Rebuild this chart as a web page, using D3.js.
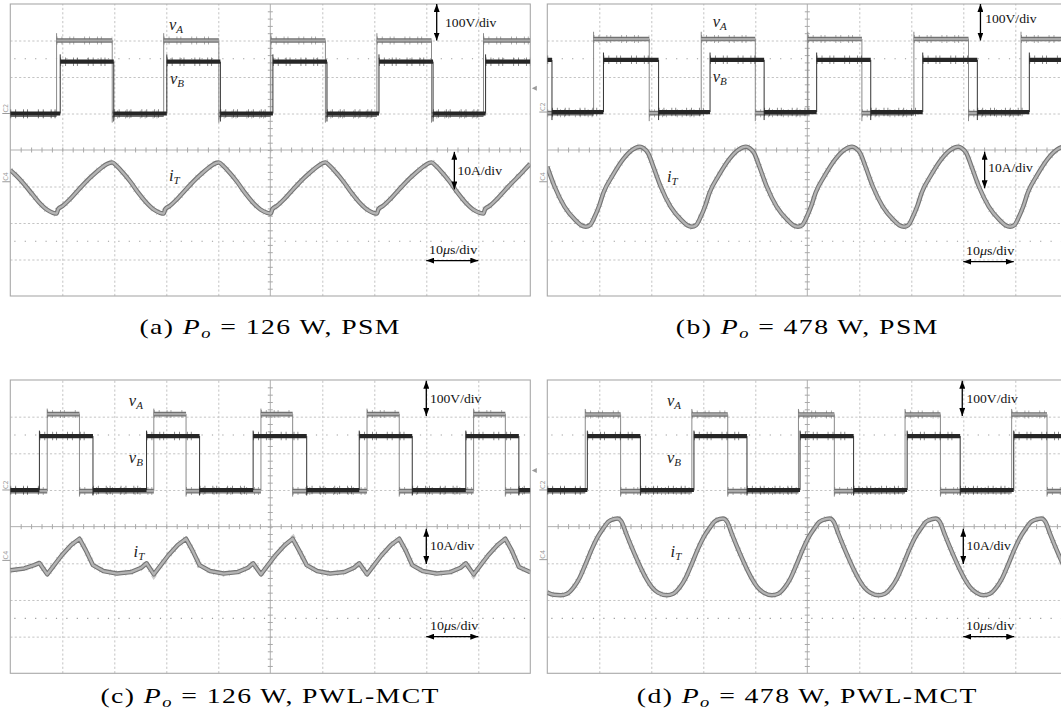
<!DOCTYPE html>
<html><head><meta charset="utf-8">
<script src="https://cdn.jsdelivr.net/npm/d3@7"></script>
<style>
html,body{margin:0;padding:0;background:#fff;}
svg{display:block;}
</style></head>
<body>
<svg id="chart" width="1061" height="726"></svg>
<script>
// ---------------- DATA (time in µs, voltage in V, current in A) ----------------
const panelLetters = ["(a)", "(b)", "(c)", "(d)"];
const outputPower  = ["126", "478", "126", "478"];
const methods      = ["PSM", "PSM", "PWL-MCT", "PWL-MCT"];
const scaleLabels  = ["100V/div", "10A/div", "10μs/div"];

// v_A / v_B switching edges (µs) and levels (V)
const vA_a_rise = [8.9, 29.5, 50.1, 70.5, 91.0];
const vA_a_fall = [19.6, 40.1, 60.6, 81.0];
const vB_a_rise = [9.6, 30.1, 50.5, 70.9, 91.4];
const vB_a_fall = [19.9, 40.4, 60.9, 81.3];

const vA_b_rise = [8.9, 29.6, 50.1, 70.5, 91.1];
const vA_b_fall = [19.6, 40.0, 60.5, 81.0];
const vB_b_rise = [10.8, 31.3, 51.8, 72.2, 92.7];
const vB_b_fall = [0.9, 21.4, 41.7, 62.2, 82.7];

const vA_c_rise = [7.1, 27.6, 48.2, 68.6, 89.1];
const vA_c_fall = [13.3, 33.8, 54.3, 74.8, 95.2];
const vB_c_rise = [5.6, 26.2, 46.7, 67.1, 87.6];
const vB_c_fall = [15.9, 36.4, 57.0, 77.3, 97.8];

const vA_d_rise = [7.3, 27.8, 48.3, 68.8, 89.3];
const vA_d_fall = [14.1, 34.7, 55.2, 75.6, 96.1];
const vB_d_rise = [7.7, 28.2, 48.6, 69.2, 89.7];
const vB_d_fall = [17.9, 38.4, 58.9, 79.4];

const vA_high = [200, 200, 207, 206];
const vB_high = [142, 143, 147, 147];
const vA_low  = [-3, -3, -3, -3];
const vB_low  = [0, 0, 0, 0];
const vB_startHigh = [false, true, false, false];
const vOvershoot  = [20, 20, 15, 15];
const vUndershoot = [22, 22, 15, 15];

// transformer current i_T samples [t (µs), i (A)]
const iT_a = [
[0,3.2],[1.2,1.6],[2.5,-0.4],[4.0,-3.0],[5.5,-5.6],[7.0,-7.6],[8.2,-8.5],[8.9,-8.7],
[9.2,-7.5],[10.1,-6.6],[11.3,-5.0],[12.6,-3.0],[13.9,-1.0],[15.2,0.9],[16.5,2.6],[17.6,3.9],[18.5,4.8],[19.2,5.2],[19.6,5.3],
[20.4,4.4],[21.6,2.6],[23.1,0.0],[24.6,-3.0],[26.1,-5.6],[27.6,-7.6],[28.8,-8.5],[29.5,-8.7],
[29.8,-7.5],[30.7,-6.6],[31.9,-5.0],[33.2,-3.0],[34.5,-1.0],[35.8,0.9],[37.1,2.6],[38.2,3.9],[39.1,4.8],[39.7,5.2],[40.1,5.3],
[40.9,4.4],[42.1,2.6],[43.6,0.0],[45.1,-3.0],[46.6,-5.6],[48.1,-7.6],[49.4,-8.5],[50.1,-8.7],
[50.4,-7.5],[51.3,-6.6],[52.5,-5.0],[53.8,-3.0],[55.1,-1.0],[56.4,0.9],[57.7,2.6],[58.8,3.9],[59.7,4.8],[60.2,5.2],[60.6,5.3],
[61.4,4.4],[62.6,2.6],[64.1,0.0],[65.6,-3.0],[67.1,-5.6],[68.6,-7.6],[69.8,-8.5],[70.5,-8.7],
[70.8,-7.5],[71.7,-6.6],[72.9,-5.0],[74.2,-3.0],[75.5,-1.0],[76.8,0.9],[78.1,2.6],[79.2,3.9],[80.1,4.8],[80.6,5.2],[81.0,5.3],
[81.8,4.4],[83.0,2.6],[84.5,0.0],[86.0,-3.0],[87.5,-5.6],[89.0,-7.6],[90.3,-8.5],[91.0,-8.7],
[91.3,-7.5],[92.2,-6.6],[93.4,-5.0],[94.7,-3.0],[96.0,-1.0],[97.3,0.9],[98.6,2.8],[99.5,4.2],[100,4.9]
];
const iT_b = [
[0,4.1],[1.4,-1.3],[3.3,-6.8],[5.4,-10.5],[6.5,-11.9],[7.4,-12.3],
[8.2,-11.9],[9.1,-9.6],[10.0,-6.5],[10.8,-3.0],[12.6,1.8],[14.6,6.2],[16.4,8.8],[17.8,9.6],
[18.5,9.2],[19.4,7.8],[20.4,4.1],[21.8,-1.3],[23.7,-6.8],[25.8,-10.5],[26.9,-11.9],[27.8,-12.3],
[28.6,-11.9],[29.5,-9.6],[30.4,-6.5],[31.2,-3.0],[33.0,1.8],[35.0,6.2],[36.8,8.8],[38.2,9.6],
[38.9,9.2],[39.8,7.8],[40.8,4.1],[42.2,-1.3],[44.1,-6.8],[46.2,-10.5],[47.3,-11.9],[48.2,-12.3],
[49.0,-11.9],[49.9,-9.6],[50.8,-6.5],[51.6,-3.0],[53.4,1.8],[55.4,6.2],[57.2,8.8],[58.6,9.6],
[59.3,9.2],[60.2,7.8],[61.2,4.1],[62.6,-1.3],[64.5,-6.8],[66.6,-10.5],[67.7,-11.9],[68.6,-12.3],
[69.4,-11.9],[70.3,-9.6],[71.2,-6.5],[72.0,-3.0],[73.8,1.8],[75.8,6.2],[77.6,8.8],[79.0,9.6],
[79.7,9.2],[80.6,7.8],[81.6,4.1],[83.0,-1.3],[84.9,-6.8],[87.0,-10.5],[88.1,-11.9],[89.0,-12.3],
[89.8,-11.9],[90.7,-9.6],[91.6,-6.5],[92.4,-3.0],[94.2,1.8],[96.2,6.2],[98.0,8.8],[99.4,9.6],[100,9.5]
];
const iT_c = [
[0,-2.7],[2.7,-2.2],[4.6,-1.3],[5.6,-0.7],[7.1,-3.8],[8.6,-1.0],[9.9,1.4],[11.7,4.2],[13.3,5.9],[14.5,2.8],[15.9,-1.3],[17.9,-2.9],[20.5,-3.6],[23.2,-3.2],[25.2,-2.0],
[26.2,-0.8],[27.6,-3.8],[29.1,-1.0],[30.4,1.4],[32.2,4.2],[33.8,5.9],[35.0,2.8],[36.4,-1.3],[38.4,-2.9],[41.0,-3.6],[43.7,-3.2],[45.7,-2.0],
[46.7,-0.8],[48.2,-3.8],[49.7,-1.0],[51.0,1.4],[52.8,4.2],[54.3,5.9],[55.5,2.8],[57.0,-1.3],[59.0,-2.9],[61.5,-3.6],[64.2,-3.2],[66.1,-2.0],
[67.1,-0.8],[68.6,-3.8],[70.1,-1.0],[71.4,1.4],[73.2,4.2],[74.8,5.9],[76.0,2.8],[77.3,-1.3],[79.3,-2.9],[82.0,-3.6],[84.6,-3.2],[86.6,-2.0],
[87.6,-0.8],[89.1,-3.8],[90.6,-1.0],[91.9,1.4],[93.7,4.2],[95.2,5.9],[96.4,2.8],[97.8,-1.8],[100,-3.2]
];
const iT_d = [
[0,-9.0],[1.3,-9.6],[2.6,-9.7],[3.8,-9.3],[5.1,-7.5],[6.2,-5.0],[7.4,-1.1],[8.6,3.0],[9.7,6.2],[10.8,8.6],[11.7,10.3],[12.9,11.1],[13.5,11.2],
[14.3,10.3],[15.2,7.0],[16.2,3.5],[17.2,0.2],[18.2,-2.9],[19.2,-5.6],[20.1,-7.5],[21.3,-9.0],[23.0,-9.7],
[24.2,-9.3],[25.5,-7.5],[26.6,-5.0],[27.8,-1.1],[29.0,3.0],[30.1,6.2],[31.2,8.6],[32.1,10.3],[33.2,11.1],[33.8,11.2],
[34.6,10.3],[35.5,7.0],[36.5,3.5],[37.5,0.2],[38.5,-2.9],[39.5,-5.6],[40.4,-7.5],[41.6,-9.0],[43.2,-9.7],
[44.4,-9.3],[45.7,-7.5],[46.8,-5.0],[48.0,-1.1],[49.2,3.0],[50.3,6.2],[51.4,8.6],[52.3,10.3],[53.7,11.1],[54.3,11.2],
[55.1,10.3],[56.0,7.0],[57.0,3.5],[58.0,0.2],[59.0,-2.9],[60.0,-5.6],[60.9,-7.5],[62.1,-9.0],[63.7,-9.7],
[64.9,-9.3],[66.2,-7.5],[67.3,-5.0],[68.5,-1.1],[69.7,3.0],[70.8,6.2],[71.9,8.6],[72.8,10.3],[74.1,11.1],[74.7,11.2],
[75.5,10.3],[76.4,7.0],[77.4,3.5],[78.4,0.2],[79.4,-2.9],[80.4,-5.6],[81.3,-7.5],[82.5,-9.0],[83.9,-9.7],
[85.1,-9.3],[86.4,-7.5],[87.5,-5.0],[88.7,-1.1],[89.9,3.0],[91.0,6.2],[92.1,8.6],[93.0,10.3],[94.4,11.1],[95.0,11.2],
[95.8,10.3],[96.7,7.0],[97.7,3.5],[98.7,0.2],[100,-3.8]
];

// ---------------- LAYOUT / STYLE ----------------
const FONT = "Liberation Serif";
const panels = [
  {box:[10.3,4,520,292],  vZero:3.0,  iZero:4.87, vA:[vA_a_rise,vA_a_fall], vB:[vB_a_rise,vB_a_fall], iT:iT_a, curve:d3.curveMonotoneX,
   arrV:[8.2,0,1], arrI:[8.54,4.05,5.08], arrT:[8,9,7.03],
   labV:[8.36,0.62], labI:[8.6,4.68], labT:[8.05,6.85],
   tA:[3.05,0.71], tB:[3.07,2.19], tI:[3.05,4.85], cx:270.15, cy:334.3},
  {box:[547.3,4,520,292], vZero:2.96, iZero:4.87, vA:[vA_b_rise,vA_b_fall], vB:[vB_b_rise,vB_b_fall], iT:iT_b, curve:d3.curveMonotoneX,
   arrV:[8.33,0,1], arrI:[8.41,4.05,5.05], arrT:[8,8.97,7.06],
   labV:[8.42,0.53], labI:[8.48,4.6], labT:[8.05,6.88],
   tA:[3.18,0.63], tB:[3.18,2.14], tI:[2.3,4.88], cx:807.3, cy:334.3},
  {box:[10.3,380,520,293.3], vZero:3.0, iZero:4.92, vA:[vA_c_rise,vA_c_fall], vB:[vB_c_rise,vB_c_fall], iT:iT_c, curve:d3.curveLinear,
   arrV:[8.0,0.02,0.98], arrI:[8.0,4.06,5.02], arrT:[8,9,7.0],
   labV:[8.07,0.64], labI:[8.07,4.65], labT:[8.07,6.82],
   tA:[2.28,0.71], tB:[2.28,2.27], tI:[2.37,4.83], cx:270.15, cy:703.3},
  {box:[547.3,380,520,293.3], vZero:3.0, iZero:4.90, vA:[vA_d_rise,vA_d_fall], vB:[vB_d_rise,vB_d_fall], iT:iT_d, curve:d3.curveMonotoneX,
   arrV:[7.98,0.02,0.98], arrI:[8.0,4.06,5.02], arrT:[8,8.98,7.0],
   labV:[8.06,0.64], labI:[8.06,4.65], labT:[8.05,6.82],
   tA:[2.3,0.71], tB:[2.3,2.27], tI:[2.37,4.83], cx:807.3, cy:703.3}
];

const svg = d3.select("#chart");
svg.append("rect").attr("width",1061).attr("height",726).attr("fill","#fff");
const defs = svg.append("defs");
defs.append("marker").attr("id","ah").attr("viewBox","0 0 8 6")
  .attr("refX",8).attr("refY",3).attr("markerWidth",8).attr("markerHeight",6)
  .attr("markerUnits","userSpaceOnUse").attr("orient","auto-start-reverse")
  .append("path").attr("d","M0,0 L8,3 L0,6 Z").attr("fill","#000");

function buildSquare(rise, fall, startHigh) {
  const ev = rise.map(t=>({t,up:true})).concat(fall.map(t=>({t,up:false}))).sort((a,b)=>a.t-b.t);
  let high = startHigh, t0 = 0; const flats = [], edges = [];
  ev.forEach(e => { flats.push({t0, t1:e.t, high}); edges.push(e); high = e.up; t0 = e.t; });
  flats.push({t0, t1:100, high});
  return {flats, edges};
}

function fitText(parent, x, y, build, target, anchor) {
  const gg = parent.append("g").attr("transform",`translate(${x},${y})`);
  const tx = gg.append("text").attr("text-anchor", anchor || "start").attr("font-family", FONT).attr("fill","#111");
  build(tx);
  if (target) {
    const w = tx.node().getBBox().width;
    gg.attr("transform", `translate(${x},${y}) scale(${target / w},1)`);
  }
  return gg;
}

panels.forEach((p, k) => {
  const [px,py,pw,ph] = p.box;
  const g = svg.append("g");
  const xd = d3.scaleLinear().domain([0,10]).range([px,px+pw]);
  const yd = d3.scaleLinear().domain([0,8]).range([py,py+ph]);
  const ts = d3.scaleLinear().domain([0,100]).range([px,px+pw]);
  const vs = d3.scaleLinear().domain([p.vZero*100,(p.vZero-8)*100]).range([py,py+ph]);
  const is = d3.scaleLinear().domain([p.iZero*10,(p.iZero-8)*10]).range([py,py+ph]);

  const cid = "clip"+k;
  defs.append("clipPath").attr("id",cid).append("rect").attr("x",px).attr("y",py).attr("width",pw).attr("height",ph);

  const gridStyle = s => { s.select(".domain").remove(); s.selectAll("line").attr("stroke","#c4c4c4").attr("stroke-dasharray","2.2,2.2"); };
  g.append("g").attr("transform",`translate(0,${py+ph})`)
    .call(d3.axisBottom(xd).tickValues([1,2,3,4,6,7,8,9]).tickSize(-ph).tickFormat("")).call(gridStyle);
  g.append("g").attr("transform",`translate(${px},0)`)
    .call(d3.axisLeft(yd).tickValues([1,2,3,5,6,7]).tickSize(-pw).tickFormat("")).call(gridStyle);
  [1.5,6.5].forEach(dv => g.append("line").attr("x1",px+4).attr("x2",px+pw).attr("y1",yd(dv)).attr("y2",yd(dv))
    .attr("stroke","#9c9c9c").attr("stroke-width",1.2).attr("stroke-dasharray","1.2,9.2"));
  g.append("line").attr("x1",px).attr("x2",px+pw).attr("y1",yd(4)).attr("y2",yd(4)).attr("stroke","#b0b0b0");
  g.append("line").attr("x1",xd(5)).attr("x2",xd(5)).attr("y1",py).attr("y2",py+ph).attr("stroke","#b0b0b0");
  const tickStyle = s => { s.select(".domain").remove(); s.selectAll("line").attr("stroke","#a8a8a8"); };
  g.append("g").attr("transform",`translate(0,${yd(4)-2.5})`)
    .call(d3.axisBottom(xd).tickValues(d3.range(1,50).map(i=>i/5)).tickSize(5).tickFormat("")).call(tickStyle);
  g.append("g").attr("transform",`translate(${xd(5)-2.5},0)`)
    .call(d3.axisRight(yd).tickValues(d3.range(1,40).map(i=>i/5)).tickSize(5).tickFormat("")).call(tickStyle);
  g.append("rect").attr("x",px).attr("y",py).attr("width",pw).attr("height",ph)
    .attr("fill","none").attr("stroke","#a9a9a9").attr("stroke-width",1.1);

  const m = g.append("g").attr("fill","#9a9a9a").attr("font-family","DejaVu Sans").attr("font-size",6.5);
  [["C2", vs(0)], ["C4", is(0)]].forEach(([lab, yy]) => {
    m.append("text").attr("transform",`translate(${px-2.5},${yy-1}) rotate(-90)`).text(lab);
    m.append("line").attr("x1",px-8).attr("x2",px).attr("y1",yy).attr("y2",yy).attr("stroke","#9a9a9a");
  });
  if (k === 0 || k === 2) {
    const ty = k === 0 ? 88.3 : 470.5;
    g.append("path").attr("d",`M${px+pw+1.5},${ty} l5,-2.5 l0,5 Z`).attr("fill","#9a9a9a");
  }

  const tg = g.append("g").attr("clip-path",`url(#${cid})`);
  const iline = d3.line().x(d=>ts(d[0])).y(d=>is(d[1])).curve(p.curve);
  tg.append("path").attr("d",iline(p.iT)).attr("fill","none").attr("stroke","#747474").attr("stroke-width",4.5).attr("stroke-linejoin","round");
  tg.append("path").attr("d",iline(p.iT)).attr("fill","none").attr("stroke","#808080").attr("stroke-width",6.5)
    .attr("stroke-dasharray","0.8,5,0.8,9").attr("opacity",0.4);
  tg.append("path").attr("d",iline(p.iT)).attr("fill","none").attr("stroke","#b4b4b4").attr("stroke-width",2.3).attr("stroke-linejoin","round");

  function drawSquare(edgesArr, hi, lo, startHigh, os, us, styles) {
    const sq = buildSquare(edgesArr[0], edgesArr[1], startHigh);
    sq.edges.forEach(e => {
      const y1 = e.up ? vs(lo) : vs(hi), y2 = e.up ? vs(hi + os) : vs(lo - us);
      tg.append("line").attr("x1",ts(e.t)).attr("x2",ts(e.t)).attr("y1",y1).attr("y2",y2)
        .attr("stroke",styles.edge).attr("stroke-width",1);
    });
    sq.flats.forEach(f => {
      const yy = vs(f.high ? hi : lo);
      const seg = () => tg.append("line").attr("x1",ts(f.t0)).attr("x2",ts(f.t1)).attr("y1",yy).attr("y2",yy);
      seg().attr("stroke",styles.outer).attr("stroke-width",styles.w);
      seg().attr("stroke",styles.noise).attr("stroke-width",styles.nw).attr("stroke-dasharray","0.9,4,0.9,7,0.9,3,0.9,10").attr("opacity",0.6);
      if (styles.inner) seg().attr("stroke",styles.inner).attr("stroke-width",styles.iw);
    });
  }
  drawSquare(p.vA, vA_high[k], vA_low[k], false, vOvershoot[k], vUndershoot[k],
    {edge:"#8a8a8a", outer:"#727272", w:4.6, inner:"#a9a9a9", iw:2.2, noise:"#6a6a6a", nw:8});
  drawSquare(p.vB, vB_high[k], vB_low[k], vB_startHigh[k], vOvershoot[k], vUndershoot[k],
    {edge:"#333", outer:"#262626", w:4.2, inner:null, noise:"#2a2a2a", nw:8.5});

  const arrow = (x1,y1,x2,y2) => g.append("line").attr("x1",x1).attr("y1",y1).attr("x2",x2).attr("y2",y2)
    .attr("stroke","#000").attr("stroke-width",1.3).attr("marker-start","url(#ah)").attr("marker-end","url(#ah)");
  arrow(xd(p.arrV[0]), yd(p.arrV[1]), xd(p.arrV[0]), yd(p.arrV[2]));
  arrow(xd(p.arrI[0]), yd(p.arrI[1]), xd(p.arrI[0]), yd(p.arrI[2]));
  arrow(xd(p.arrT[0]), yd(p.arrT[2]), xd(p.arrT[1]), yd(p.arrT[2]));

  fitText(g, xd(p.labV[0]), yd(p.labV[1]), t => t.attr("font-size",13).text(scaleLabels[0]), 52);
  fitText(g, xd(p.labI[0]), yd(p.labI[1]), t => t.attr("font-size",13).text(scaleLabels[1]), 45);
  fitText(g, xd(p.labT[0]), yd(p.labT[1]), t => {
    t.attr("font-size",13);
    t.append("tspan").text("10");
    t.append("tspan").attr("font-style","italic").text("μ");
    t.append("tspan").text("s/div");
  }, 49);

  const mathLabel = (pos, main, sub) => fitText(g, xd(pos[0]), yd(pos[1]), t => {
    t.attr("font-size",16.5).attr("fill","#222");
    t.append("tspan").attr("font-style","italic").text(main);
    t.append("tspan").attr("font-style","italic").attr("font-size",11).attr("dy",3).text(sub);
  });
  mathLabel(p.tA, "v", "A");
  mathLabel(p.tB, "v", "B");
  mathLabel(p.tI, "i", "T");
});

// captions: horizontal stretch + small letter spacing
const capStretch = 1.32;
let capSpacing = null;
panels.forEach((p, k) => {
  const gg = svg.append("g");
  const t = gg.append("text").attr("text-anchor","middle").attr("font-family",FONT)
    .attr("font-size",21).attr("fill","#000");
  t.append("tspan").text(panelLetters[k] + " ");
  t.append("tspan").attr("font-style","italic").text("P");
  t.append("tspan").attr("font-style","italic").attr("font-size",14).attr("dy",4).text("o");
  t.append("tspan").attr("dy",-4).text(" = " + outputPower[k] + " W, " + methods[k]);
  if (capSpacing === null) {
    const w0 = t.node().getBBox().width;
    const n = (panelLetters[k] + " Po = " + outputPower[k] + " W, " + methods[k]).length;
    capSpacing = Math.max(0, (262 / capStretch - w0) / n);
  }
  t.attr("letter-spacing", capSpacing);
  gg.attr("transform", `translate(${p.cx},${p.cy}) scale(${capStretch},1)`);
});
</script>
</body></html>
